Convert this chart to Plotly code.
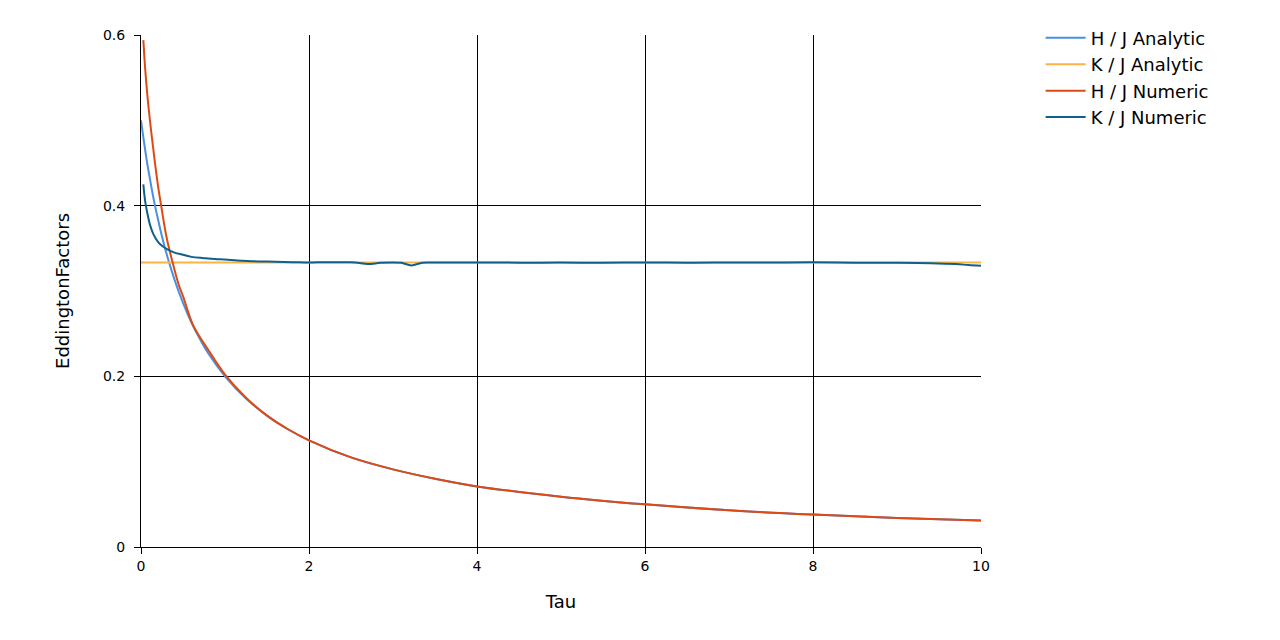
import plotly.graph_objects as go

# ---- data ----
tau_hj_analytic = [0, 0.025, 0.05, 0.075, 0.1, 0.15, 0.2, 0.25, 0.3, 0.4, 0.5, 0.6, 0.7, 0.8,
                   1.0, 1.25, 1.5, 1.75, 2.0, 2.5, 3.0, 3.5, 4.0, 5.0, 6.0, 7.0, 8.0, 9.0, 10.0]
hj_analytic = [0.500, 0.482, 0.465, 0.449, 0.435, 0.408, 0.385, 0.364, 0.345, 0.313, 0.286,
               0.263, 0.244, 0.227, 0.200, 0.174, 0.154, 0.138, 0.125, 0.105, 0.091, 0.080,
               0.071, 0.059, 0.050, 0.043, 0.038, 0.034, 0.031]

tau_kj_analytic = [0, 10.0]
kj_analytic = [0.3333, 0.3333]

tau_hj_numeric = [0.028, 0.05, 0.08, 0.12, 0.16, 0.2, 0.24, 0.3, 0.377, 0.45, 0.5, 0.62, 0.8,
                  1.0, 1.25, 1.5, 1.75, 2.0, 2.5, 3.0, 3.5, 4.0, 5.0, 6.0, 7.0, 8.0, 9.0, 10.0]
hj_numeric = [0.594, 0.560, 0.525, 0.488, 0.455, 0.425, 0.400, 0.365, 0.333, 0.307, 0.294,
              0.260, 0.231, 0.202, 0.175, 0.154, 0.138, 0.125, 0.105, 0.091, 0.080, 0.071,
              0.059, 0.050, 0.043, 0.038, 0.034, 0.031]

tau_kj_numeric = [0.028, 0.05, 0.08, 0.107, 0.15, 0.2, 0.25, 0.325, 0.4, 0.5, 0.6, 0.75, 0.88,
                  1.0, 1.2, 1.5, 1.8, 2.0, 2.2, 2.4, 2.55, 2.7, 2.85, 3.0, 3.1, 3.22, 3.35,
                  3.5, 4.0, 4.5, 5.0, 5.5, 6.0, 6.5, 7.0, 7.5, 8.0, 8.5, 9.0, 9.4, 9.7, 9.85, 10.0]
kj_numeric = [0.425, 0.405, 0.389, 0.3775, 0.366, 0.358, 0.353, 0.3483, 0.345, 0.3425, 0.340,
              0.3385, 0.3374, 0.3368, 0.3355, 0.3345, 0.3338, 0.3333, 0.3338, 0.3336, 0.3335,
              0.3316, 0.3330, 0.3335, 0.3330, 0.3300, 0.3332, 0.3334, 0.3335, 0.3332, 0.3333,
              0.3331, 0.3335, 0.3332, 0.3333, 0.3334, 0.3336, 0.3332, 0.3330, 0.3325, 0.3315,
              0.3305, 0.3297]

x_ticks = [0, 2, 4, 6, 8, 10]
y_ticks = [0, 0.2, 0.4, 0.6]
y_tick_labels = ["0", "0.2", "0.4", "0.6"]

FONT = "DejaVu Sans"

fig = go.Figure()
fig.add_trace(go.Scatter(x=tau_hj_analytic, y=hj_analytic, mode="lines", name="H / J Analytic",
                         line=dict(color="#4A90E2", width=2, shape="spline")))
fig.add_trace(go.Scatter(x=tau_kj_analytic, y=kj_analytic, mode="lines", name="K / J Analytic",
                         line=dict(color="#FBB444", width=2)))
fig.add_trace(go.Scatter(x=tau_hj_numeric, y=hj_numeric, mode="lines", name="H / J Numeric",
                         line=dict(color="#DD4A14", width=2, shape="spline")))
fig.add_trace(go.Scatter(x=tau_kj_numeric, y=kj_numeric, mode="lines", name="K / J Numeric",
                         line=dict(color="#0E618C", width=2, shape="spline")))

fig.update_layout(
    width=1272, height=632,
    margin=dict(l=133, r=299, t=25, b=93),
    paper_bgcolor="white", plot_bgcolor="white",
    font=dict(family=FONT, color="black", size=14),
    showlegend=True,
    legend=dict(x=1.071, y=1.03, xanchor="left", yanchor="top",
                font=dict(family=FONT, size=18, color="black"),
                tracegroupgap=0, itemwidth=40, bgcolor="rgba(0,0,0,0)"),
    xaxis=dict(range=[0, 10], tickvals=x_ticks, showgrid=True, gridcolor="black", gridwidth=1,
               zeroline=False, showline=True, linecolor="black", linewidth=1,
               ticks="outside", ticklen=6, tickcolor="black",
               tickfont=dict(family=FONT, size=14),
               title=dict(text="Tau", font=dict(family=FONT, size=18), standoff=22)),
    yaxis=dict(range=[0, 0.6], tickvals=y_ticks, ticktext=y_tick_labels, showgrid=True,
               gridcolor="black", gridwidth=1, zeroline=False, showline=True,
               linecolor="black", linewidth=1, ticks="outside", ticklen=6, tickcolor="black",
               ticklabelstandoff=6,
               tickfont=dict(family=FONT, size=14),
               title=dict(text="EddingtonFactors", font=dict(family=FONT, size=18), standoff=28)),
)

fig.write_html("out.html")
